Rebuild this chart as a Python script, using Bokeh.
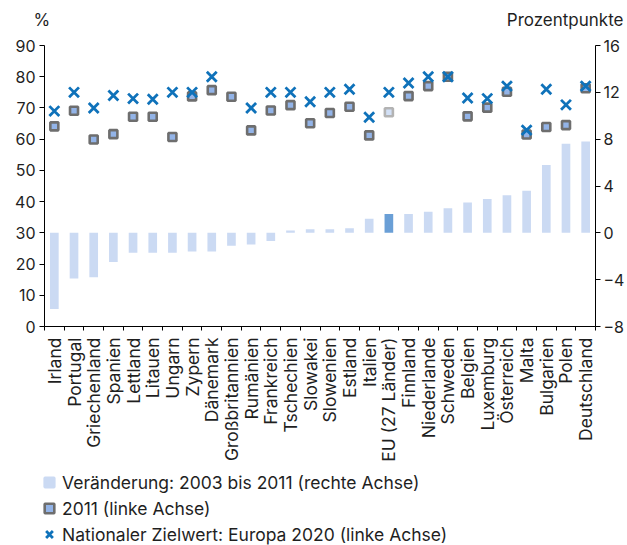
import math
from bokeh.plotting import figure
from bokeh.layouts import column
from bokeh.models import (ColumnDataSource, Range1d, LinearAxis, FixedTicker,
                          Legend, LegendItem, Label)
from bokeh.embed import file_html
from bokeh.resources import INLINE

countries = ["Irland", "Portugal", "Griechenland", "Spanien", "Lettland", "Litauen",
             "Ungarn", "Zypern", "Dänemark", "Großbritannien", "Rumänien", "Frankreich",
             "Tschechien", "Slowakei", "Slowenien", "Estland", "Italien", "EU (27 Länder)",
             "Finnland", "Niederlande", "Schweden", "Belgien", "Luxemburg", "Österreich",
             "Malta", "Bulgarien", "Polen", "Deutschland"]
# Veränderung 2003 bis 2011 (Prozentpunkte, rechte Achse)
change = [-6.5, -3.9, -3.8, -2.5, -1.7, -1.7, -1.7, -1.6, -1.6, -1.1, -1.0, -0.7,
          0.2, 0.3, 0.3, 0.4, 1.2, 1.6, 1.6, 1.8, 2.1, 2.6, 2.9, 3.2, 3.6, 5.8, 7.6, 7.8]
# 2011 (%, linke Achse)
rate_2011 = [64.1, 69.1, 59.9, 61.6, 67.2, 67.2, 60.7, 73.7, 75.7, 73.6, 62.8, 69.2,
             70.9, 65.1, 68.4, 70.4, 61.2, 68.6, 73.8, 77.0, 80.0, 67.3, 70.1, 75.2,
             61.5, 63.9, 64.5, 76.3]
# Nationaler Zielwert Europa 2020 (%, linke Achse)
target_2020 = [69, 75, 70, 74, 73, 72.8, 75, 75, 80, float("nan"), 70, 75,
               75, 72, 75, 76, 67, 75, 78, 80, 80, 73.2, 73, 77, 62.9, 76, 71, 77]
left_ticks = [0, 10, 20, 30, 40, 50, 60, 70, 80, 90]
right_ticks = [-8, -4, 0, 4, 8, 12, 16]
legend_labels = ["Veränderung: 2003 bis 2011 (rechte Achse)",
                 "2011 (linke Achse)",
                 "Nationaler Zielwert: Europa 2020 (linke Achse)"]

FONT = "Inter"
TXT = "#1f1f1f"
EU = "EU (27 Länder)"
BAR = "#cbdaf3"
BAR_EU = "#6a9fd6"
SQ_FILL = "#93b4e8"
SQ_LINE = "#6e6e6e"
CROSS = "#0f72ba"
W = 627

n = len(countries)
slot_center = [i + 0.5 for i in range(n)]
bar_color = [BAR_EU if c == EU else BAR for c in countries]
sq_fill = ["#d2e0f6" if c == EU else SQ_FILL for c in countries]
sq_line = ["#b3b3b3" if c == EU else SQ_LINE for c in countries]

src = ColumnDataSource(dict(x=slot_center, country=countries, change=change,
                            rate=rate_2011, target=target_2020, bar_color=bar_color,
                            sq_fill=sq_fill, sq_line=sq_line))


def bare(fig):
    fig.outline_line_color = None
    fig.background_fill_color = "white"
    fig.border_fill_color = "white"
    for g in fig.grid:
        g.visible = False
    return fig


# ---- top strip with the unit labels
TOP_H = 35
top = bare(figure(width=W, height=TOP_H, x_range=Range1d(0, W), y_range=Range1d(0, TOP_H),
                  output_backend="svg", toolbar_location=None,
                  x_axis_location=None, y_axis_location=None,
                  min_border=0, frame_align=False))
top.add_layout(Label(x=33, y=TOP_H - 19, text="%", text_align="left",
                     text_baseline="middle", text_font=FONT, text_font_size="17px",
                     text_color=TXT))
top.add_layout(Label(x=623, y=TOP_H - 19, text="Prozentpunkte", text_align="right",
                     text_baseline="middle", text_font=FONT, text_font_size="17px",
                     text_color=TXT))

# ---- main chart
MAIN_H = 435
p = bare(figure(width=W, height=MAIN_H, x_range=Range1d(0, n),
                y_range=Range1d(0, 90), output_backend="svg", toolbar_location=None,
                x_axis_location=None, y_axis_location=None,
                min_border_top=10, min_border_left=44, min_border_right=28,
                min_border_bottom=MAIN_H - 10 - 281, frame_align=False))
p.extra_y_ranges = {"right": Range1d(-8, 16)}


def style_axis(ax):
    ax.axis_line_color = "#000000"
    ax.axis_line_width = 1
    ax.major_tick_line_color = "#000000"
    ax.major_tick_in = 0
    ax.major_tick_out = 5
    ax.minor_tick_line_color = None
    ax.major_label_text_font = FONT
    ax.major_label_text_font_size = "16px"
    ax.major_label_text_color = TXT


left = LinearAxis(ticker=FixedTicker(ticks=left_ticks))
style_axis(left)
left.major_label_standoff = 4
p.add_layout(left, "left")

right = LinearAxis(y_range_name="right", ticker=FixedTicker(ticks=right_ticks))
style_axis(right)
right.major_label_standoff = 3
p.add_layout(right, "right")

cat = LinearAxis(ticker=FixedTicker(ticks=slot_center, minor_ticks=list(range(n + 1))))
cat.major_label_overrides = {c: name for c, name in zip(slot_center, countries)}
cat.axis_line_color = "#000000"
cat.major_tick_line_color = None
cat.major_tick_in = 0
cat.major_tick_out = 0
cat.minor_tick_line_color = "#000000"
cat.minor_tick_in = 0
cat.minor_tick_out = 4
cat.major_label_orientation = math.pi / 2
cat.major_label_standoff = 7
cat.major_label_text_font = FONT
cat.major_label_text_font_size = "17.5px"
cat.major_label_text_color = TXT
p.add_layout(cat, "below")

p.vbar(x="x", top="change", bottom=0, width=0.44, source=src,
       y_range_name="right", fill_color="bar_color", line_color=None)
p.scatter(x="x", y="rate", source=src, marker="square", size=8,
          fill_color="sq_fill", line_color="sq_line", line_width=2.6)
p.scatter(x="x", y="target", source=src, marker="x", size=14,
          line_color=CROSS, line_width=2.8)

# ---- legend strip (proxy renderers are hidden; only their legend swatches show)
LEG_H = 545 - TOP_H - MAIN_H
lg = bare(figure(width=W, height=LEG_H, x_range=Range1d(0, W), y_range=Range1d(0, LEG_H),
                 output_backend="svg", toolbar_location=None,
                 x_axis_location=None, y_axis_location=None, min_border=0,
                 frame_align=False))
leg_bar = lg.scatter(x="x", y="change", source=src, marker="square", size=8,
                     fill_color=BAR, line_color=BAR, line_width=2.6, visible=False)
leg_sq = lg.scatter(x="x", y="rate", source=src, marker="square", size=8,
                    fill_color=SQ_FILL, line_color=SQ_LINE, line_width=2.6, visible=False)
leg_x = lg.scatter(x="x", y="target", source=src, marker="x", size=8,
                   line_color=CROSS, line_width=2.8, visible=False)
legend = Legend(items=[
    LegendItem(label=legend_labels[0], renderers=[leg_bar]),
    LegendItem(label=legend_labels[1], renderers=[leg_sq]),
    LegendItem(label=legend_labels[2], renderers=[leg_x]),
], location=(37, LEG_H - 78 + 1), orientation="vertical", glyph_width=24, glyph_height=26,
    label_height=26, spacing=0, padding=0, margin=0, label_standoff=1,
    border_line_color=None, background_fill_alpha=0, inactive_fill_alpha=0,
    label_text_font=FONT, label_text_font_size="17.5px", label_text_color=TXT)
lg.add_layout(legend)

layout = column(top, p, lg, spacing=0)
open("out.html", "w").write(file_html(layout, INLINE))
